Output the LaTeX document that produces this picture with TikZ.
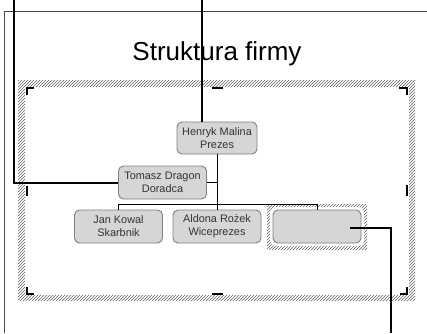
\documentclass[tikz,border=0pt]{standalone}
\usepackage{fontspec}
\setmainfont{Liberation Sans}
\usetikzlibrary{positioning,patterns,calc}
\definecolor{boxfill}{HTML}{D6D6D6}
\definecolor{boxedge}{HTML}{7F7F7F}
\definecolor{boxtext}{HTML}{333333}

\begin{document}
\begin{tikzpicture}[x=1pt, y=-1pt,
    person/.style={draw=boxedge, line width=0.9pt, fill=boxfill, rounded corners=5pt,
        minimum width=88pt, minimum height=33pt, align=center, inner sep=1pt,
        text=boxtext, font=\fontsize{10.9}{13}\selectfont},
    hatch/.style={pattern=north east lines, pattern color=gray!75!black},
    callout/.style={line width=2pt, black},
    cornermark/.style={line width=2pt, black}]
    \useasboundingbox (0,0) rectangle (427,333);

    % Slide border and title
    \draw[gray!60!black, line width=0.8pt] (4,333) -- (4,11.5) -- (427,11.5);
    \node (title) at (217,54) {\fontsize{26}{30}\selectfont Struktura firmy};

    % Placeholder frame with hatched band
    \fill[hatch, even odd rule] (18,80) rectangle (415,301) (25,87) rectangle (409,295);
    \draw[cornermark] (27,95) -- (27,88) -- (34,88);
    \draw[cornermark] (399,88) -- (407,88) -- (407,95);
    \draw[cornermark] (27,287) -- (27,294) -- (34,294);
    \draw[cornermark] (400,294) -- (407,294) -- (407,287);
    \draw[cornermark] (212,88) -- (223,88);
    \draw[cornermark] (212,294) -- (223,294);
    \draw[cornermark] (27,186) -- (27,196);
    \draw[cornermark] (407,185) -- (407,196);

    % Selected empty box
    \fill[hatch] (267,204) rectangle (367,249);
    \fill[white, rounded corners=6pt] (270,207) rectangle (364,246);

    % Boxes
    \node[person, minimum width=80pt, minimum height=32pt] (henryk) at (217,138) {Henryk Malina\\Prezes};
    \node[person] (tomasz) at (162.5,182.5) {Tomasz Dragon\\Doradca};
    \node[person] (jan) at (118.5,226.5) {Jan Kowal\\Skarbnik};
    \node[person] (aldona) at (217,226.5) {Aldona Rożek\\Wiceprezes};
    \node[person] (empty) at (317,226.5) {};

    % Connectors
    \draw[line width=0.9pt] (henryk.south) -- (aldona.north);
    \draw[line width=0.9pt] (tomasz.east) -- (tomasz.east -| henryk.south);
    \draw[line width=0.9pt] (jan.north) |- ([yshift=5pt]empty.north) -- (empty.north);

    % Callouts
    \coordinate (c1) at (13.5,0);
    \coordinate (c2) at (202,0);
    \coordinate (c3) at (391,333);
    \draw[callout] (c1) |- (tomasz.west);
    \draw[callout] (c2) -- (c2 |- henryk.north);
    \draw[callout] ([xshift=-11pt, yshift=-1.5pt]empty.east) -| (c3);
\end{tikzpicture}
\end{document}
